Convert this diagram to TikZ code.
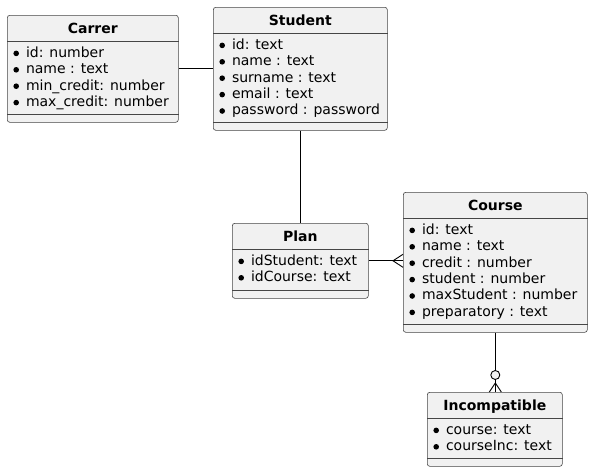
\documentclass[tikz,border=0pt]{standalone}
\usepackage{fontspec}
\setmainfont{DejaVu Sans}
\usetikzlibrary{positioning}

\definecolor{boxfill}{HTML}{F1F1F1}
\definecolor{boxline}{HTML}{181818}

\newcommand{\bul}{\rule{0pt}{11pt}\tikz[baseline={(0pt,-3.8pt)}]\fill[black] (0pt,0pt) circle (2.8pt);\hspace{7pt}}

\begin{document}
\begin{tikzpicture}[x=1pt, y=-1pt,
  entity/.style={draw=boxline!80, line width=0.6pt, fill=boxfill, rounded corners=2.5pt, anchor=north west, inner sep=0pt},
  title/.style={font=\bfseries\fontsize{14}{16}\selectfont, inner sep=0pt, text height=10.2pt, text depth=0pt},
  attr/.style={font=\fontsize{14}{16.4}\selectfont, align=left, inner sep=0pt, anchor=north west},
  sepline/.style={draw=boxline!80, line width=0.6pt},
  link/.style={draw=black, line width=0.9pt}]

  \useasboundingbox (0,0) rectangle (592,471);

  % entities
  \node[entity, minimum width=171pt, minimum height=107pt] (carrer) at (7,15) {};
  \node[title, below=8pt of carrer.north] (carrerT) {Carrer};
  \node[attr, below right=31pt and 6.2pt of carrer.north west] (carrerA)
    {\bul id: number\\ \bul name : text\\ \bul min\_credit: number\\ \bul max\_credit: number};

  \node[entity, minimum width=174pt, minimum height=123pt] (student) at (213,7) {};
  \node[title, below=8pt of student.north] (studentT) {Student};
  \node[attr, below right=31pt and 6.2pt of student.north west] (studentA)
    {\bul id: text\\ \bul name : text\\ \bul surname : text\\ \bul email : text\\ \bul password : password};

  \node[entity, minimum width=136pt, minimum height=75pt] (plan) at (232,223) {};
  \node[title, below=8pt of plan.north] (planT) {Plan};
  \node[attr, below right=31pt and 6.2pt of plan.north west] (planA)
    {\bul idStudent: text\\ \bul idCourse: text};

  \node[entity, minimum width=184pt, minimum height=140pt] (course) at (403,192) {};
  \node[title, below=8pt of course.north] (courseT) {Course};
  \node[attr, below right=31pt and 6.2pt of course.north west] (courseA)
    {\bul id: text\\ \bul name : text\\ \bul credit : number\\ \bul student : number\\ \bul maxStudent : number\\ \bul preparatory : text};

  \node[entity, minimum width=135pt, minimum height=74pt] (incompatible) at (427,392) {};
  \node[title, below=8pt of incompatible.north] (incompatibleT) {Incompatible};
  \node[attr, below right=31pt and 6.2pt of incompatible.north west] (incompatibleA)
    {\bul course: text\\ \bul courseInc: text};

  % separators
  \foreach \e in {carrer, student, plan, course, incompatible} {
    \draw[sepline] ([yshift=-26pt]\e.north west) -- ([yshift=-26pt]\e.north east);
    \draw[sepline] ([yshift=8pt]\e.south west) -- ([yshift=8pt]\e.south east);
  }

  % relations
  \draw[link] (carrer.east) -- (student.west);
  \draw[link] (student.south) -- (plan.north);

  \coordinate (planEnd) at (plan.east -| course.west);
  \draw[link] (plan.east) -- (planEnd);
  \draw[link] (planEnd) ++(0,-6.5) -- ++(-10,6.5) -- ++(10,6.5);

  \coordinate (incEnd) at (course.south |- incompatible.north);
  \draw[link] (course.south) -- ([yshift=22pt]incEnd);
  \draw[link, fill=boxfill] ([yshift=17pt]incEnd) circle (4.5pt);
  \draw[link] ([yshift=12.5pt]incEnd) -- (incEnd);
  \draw[link] (incEnd) ++(-6,0) -- ++(6,-9) -- ++(6,9);
\end{tikzpicture}
\end{document}
